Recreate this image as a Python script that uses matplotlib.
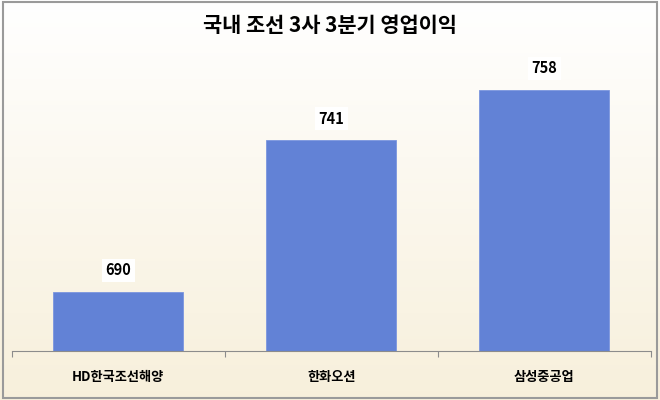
import numpy as np
import matplotlib.pyplot as plt
from matplotlib.patches import Rectangle

plt.rcParams["font.family"] = ["Noto Sans CJK KR", "DejaVu Sans"]

TITLE = "국내 조선 3사 3분기 영업이익"
companies = ["HD한국조선해양", "한화오션", "삼성중공업"]
profits = [690, 741, 758]

BAR_COLOR = "#6282d6"

fig = plt.figure(figsize=(6.6, 4.0), dpi=100)

# background gradient: white on top, cream at the bottom
bg = fig.add_axes([0, 0, 1, 1], zorder=0)
gradient = np.linspace(0, 1, 256).reshape(-1, 1)
top = np.array([1.0, 1.0, 1.0])
bottom = np.array([0.97, 0.94, 0.86])
colors = top + (bottom - top) * gradient[..., None]
bg.imshow(colors, aspect="auto", extent=(0, 1, 0, 1))
bg.set_axis_off()
fig.patches.append(
    Rectangle((0.004, 0.005), 0.992, 0.99, transform=fig.transFigure,
              fill=False, edgecolor="#9a9a9a", linewidth=1.5, zorder=5)
)

ax = fig.add_axes([0.018, 0.1225, 0.968, 0.7425], zorder=1)
ax.patch.set_alpha(0)
x = np.arange(len(companies)) + 0.5
bars = ax.bar(x, profits, width=0.61, color=BAR_COLOR, edgecolor="#7b96df",
              linewidth=0.6, zorder=2)
ax.set_xlim(0, len(companies))
ax.set_ylim(670, 770)

for bar, value in zip(bars, profits):
    ax.text(bar.get_x() + bar.get_width() / 2, value + 4.5, f"{value}",
            ha="center", va="bottom", fontsize=10.5, fontweight="bold",
            bbox=dict(facecolor="white", edgecolor="none", pad=2.5))

for side in ("left", "right", "top"):
    ax.spines[side].set_visible(False)
ax.spines["bottom"].set_color("#8c8c8c")
ax.set_yticks([])
ax.set_xticks(np.arange(len(companies) + 1))
ax.set_xticklabels([])
ax.set_xticks(x, minor=True)
ax.set_xticklabels(companies, minor=True, fontsize=9.5, fontweight="bold")
ax.tick_params(axis="x", which="major", length=4, color="#8c8c8c")
ax.tick_params(axis="x", which="minor", length=0, pad=14)

fig.text(0.5, 0.935, TITLE, ha="center", va="center", fontsize=15,
         fontweight="bold")

fig.savefig("out.png", dpi=100)
